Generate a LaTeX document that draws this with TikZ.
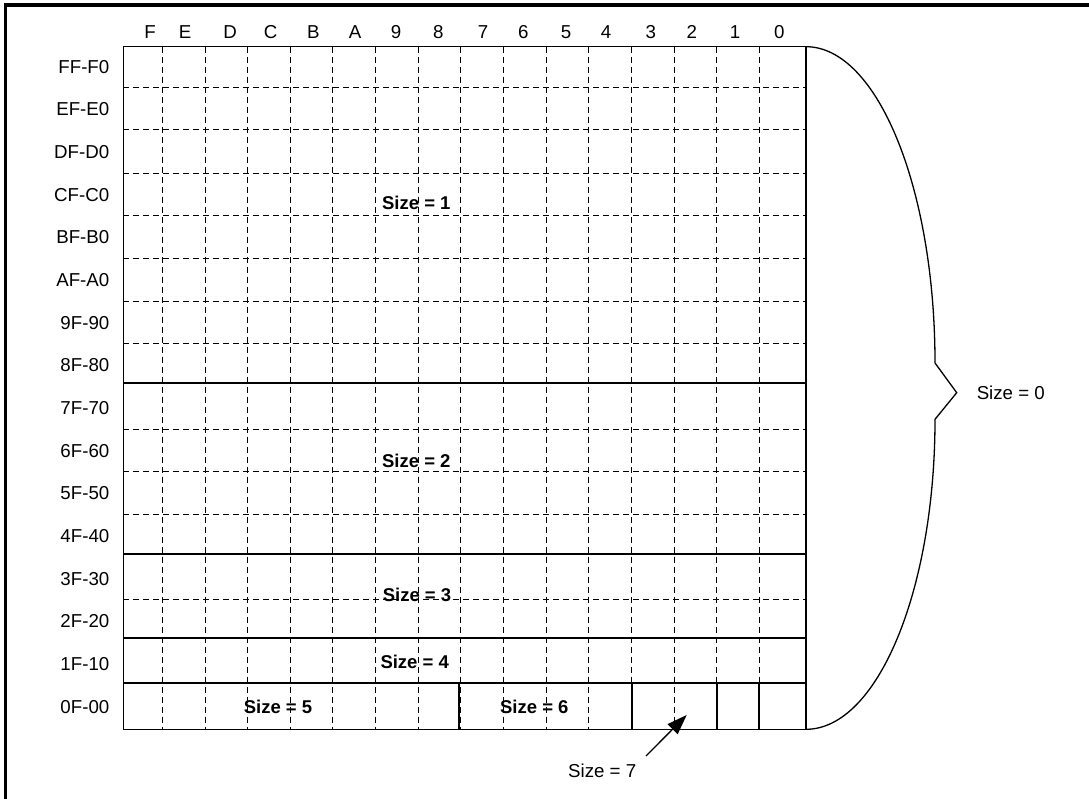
\documentclass[tikz,border=0pt]{standalone}
\usepackage{fontspec}
\setmainfont{Liberation Sans}
\usetikzlibrary{arrows.meta}
\begin{document}
\begin{tikzpicture}[x=1pt,y=1pt,
  lbl/.style={inner sep=0pt, font=\fontsize{18.7}{22}\selectfont},
  blbl/.style={inner sep=0pt, font=\fontsize{18.5}{22}\selectfont\bfseries},
  gridthin/.style={line width=1pt, dash pattern=on 6pt off 4pt},
  sep/.style={line width=2.3pt},
  frameline/.style={line width=3.3pt},
  outline/.style={line width=1.3pt},
  brace/.style={line width=1.3pt},
  pointer/.style={line width=1.3pt, -{Triangle[length=20pt,width=14pt]}}]
\useasboundingbox (0,0) rectangle (1089,-799);
\draw[frameline] (5.7,-805) -- (5.7,-5) -- (1095,-5);
% dashed grid
\foreach \y in {87.7,130,173.3,215.7,258.3,301.7,344,429.3,471.7,514.3,599.3}
  \draw[gridthin] (123.3,-\y) -- (806,-\y);
\foreach \x in {162,205,247.7,290,332.7,375.3,418.3,460.7,503.3,546,588.7,631.7,674,716.7,759.3}
  \draw[gridthin] (\x,-46.7) -- (\x,-729.3);
% thick separators
\foreach \y in {383.3,554.3,638.3,682.7}
  \draw[sep] (123.3,-\y) -- (806,-\y);
\foreach \x in {459.3,631.7,716.7,759.3}
  \draw[sep] (\x,-682.7) -- (\x,-729.3);
\draw[outline] (123.3,-46.7) rectangle (806,-729.3);
% column labels
\foreach \t/\x in {F/150,E/185,D/230,C/270.7,B/313.3,A/355,9/396,8/438.3,7/483,6/523.3,5/566,4/606,3/650.7,2/691.7,1/735,0/779.3}
  \node[lbl, anchor=base] (col\t) at (\x,-38.3) {\t};
% row labels
\foreach \t [count=\i from 0] in {FF-F0,EF-E0,DF-D0,CF-C0,BF-B0,AF-A0,9F-90,8F-80,7F-70,6F-60,5F-50,4F-40,3F-30,2F-20,1F-10,0F-00}
  \node[lbl, anchor=east] (row\i) at (109.5,{-66.7-42.67*\i}) {\t};
% size labels
\node[blbl] (s1) at (416.3,-203.3) {Size = 1};
\node[blbl] (s2) at (416.3,-461) {Size = 2};
\node[blbl] (s3) at (417,-595) {Size = 3};
\node[blbl] (s4) at (414.7,-661.7) {Size = 4};
\node[blbl] (s5) at (278,-706.7) {Size = 5};
\node[blbl] (s6) at (534.3,-706.7) {Size = 6};
\node[lbl] (s7) at (602.2,-770.7) {Size = 7};
\node[lbl] (s0) at (1010.8,-392.7) {Size = 0};
% brace
\draw[brace] (806,-46.7) arc[start angle=90,end angle=0,x radius=129,y radius=316.3]
  -- (956.7,-392.7) -- (935,-419.3)
  arc[start angle=0,end angle=-90,x radius=129,y radius=310];
% pointer
\coordinate (p7s) at (646,-756);
\coordinate (p7e) at (686.7,-715);
\draw[pointer] (p7s) -- (p7e);
\end{tikzpicture}
\end{document}
